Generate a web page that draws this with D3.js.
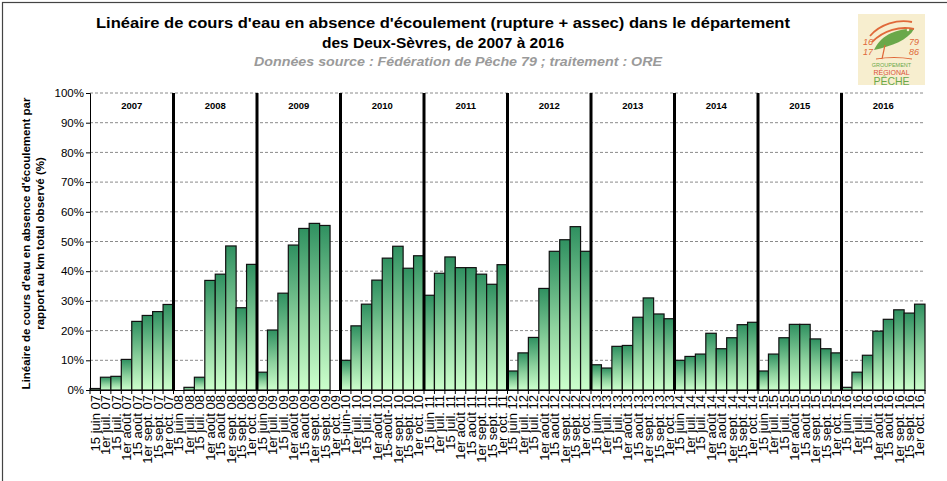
<!DOCTYPE html>
<html>
<head>
<meta charset="utf-8">
<script src="https://cdn.jsdelivr.net/npm/d3@7"></script>
<style>
  body { margin: 0; background: #fff; }
  svg { display: block; font-family: "Liberation Sans", Arial, sans-serif; }
</style>
</head>
<body>
<div id="chart-area"></div>
<script>
// années et dates d'observation
var years = ['2007', '2008', '2009', '2010', '2011', '2012', '2013', '2014', '2015', '2016'];
var dates = ['15 juin', '1er juil.', '15 juil.', '1er août', '15 août', '1er sept.', '15 sept.', '1er oct.'];

// part du linéaire en absence d'écoulement (%), null = pas d'observation
var v2007 = [0.5, 4.3, 4.6, 10.3, 23.1, 25.1, 26.4, 28.8];
var v2008 = [null, 0.9, 4.3, 36.9, 39.0, 48.5, 27.7, 42.3];
var v2009 = [6.0, 20.2, 32.6, 48.8, 54.4, 56.1, 55.4, null];
var v2010 = [10.0, 21.6, 28.9, 37.0, 44.4, 48.4, 41.0, 45.2];
var v2011 = [31.9, 39.3, 44.8, 41.2, 41.2, 39.0, 35.6, 42.2];
var v2012 = [6.4, 12.5, 17.7, 34.2, 46.7, 50.6, 55.0, 46.7];
var v2013 = [8.5, 7.4, 14.7, 15.0, 24.5, 31.0, 25.6, 24.0];
var v2014 = [10.0, 11.3, 12.1, 19.1, 13.9, 17.6, 22.0, 22.8];
var v2015 = [6.4, 12.1, 17.6, 22.1, 22.1, 17.2, 13.9, 12.5];
var v2016 = [0.9, 6.0, 11.7, 19.8, 23.8, 27.0, 25.9, 28.9];

var yTicks = [0, 10, 20, 30, 40, 50, 60, 70, 80, 90, 100];

var series = [v2007, v2008, v2009, v2010, v2011, v2012, v2013, v2014, v2015, v2016];

// libellés de l'axe des x, tels qu'écrits dans le classeur d'origine
function dateLabel(d, yr) {
    var s = yr.slice(2);
    if (yr === '2010' && (d === '15 juin' || d === '15 août')) {
        return d.replace(' ', '-') + '-' + s;
    }
    return d + ' ' + s;
}

var data = [];
years.forEach(function (yr, i) {
    dates.forEach(function (d, j) {
        data.push({ year: yr, label: dateLabel(d, yr), value: series[i][j], first: j === 0 });
    });
});

var W = 947, H = 481;
var margin = { left: 90, right: 22, top: 93, bottom: 91 };
var width = W - margin.left - margin.right;
var height = H - margin.top - margin.bottom;

var svg = d3.select('#chart-area').append('svg')
    .attr('width', W)
    .attr('height', H);

// cadre
svg.append('rect')
    .attr('x', 2.5).attr('y', 2.5)
    .attr('width', W + 20).attr('height', H + 20)
    .attr('fill', 'none')
    .attr('stroke', '#444')
    .attr('stroke-width', 1.2);

var defs = svg.append('defs');
var grad = defs.append('linearGradient')
    .attr('id', 'barGrad')
    .attr('x1', 0).attr('y1', 0).attr('x2', 0).attr('y2', 1);
grad.append('stop').attr('offset', '0%').attr('stop-color', '#2f9060');
grad.append('stop').attr('offset', '55%').attr('stop-color', '#8fd39f');
grad.append('stop').attr('offset', '100%').attr('stop-color', '#ccffcc');

// titre
svg.append('text')
    .attr('x', 443).attr('y', 28)
    .attr('text-anchor', 'middle')
    .attr('textLength', 694)
    .attr('lengthAdjust', 'spacingAndGlyphs')
    .attr('style', 'font-size: 15.5px; font-weight: bold')
    .text("Linéaire de cours d'eau en absence d'écoulement (rupture + assec) dans le département");
svg.append('text')
    .attr('x', 443).attr('y', 48)
    .attr('text-anchor', 'middle')
    .attr('style', 'font-size: 15.5px; font-weight: bold')
    .text('des Deux-Sèvres, de 2007 à 2016');
svg.append('text')
    .attr('x', 458).attr('y', 66)
    .attr('text-anchor', 'middle')
    .attr('textLength', 408)
    .attr('lengthAdjust', 'spacingAndGlyphs')
    .attr('fill', '#9a9a9a')
    .attr('style', 'font-size: 13px; font-weight: bold; font-style: italic')
    .text('Données source : Fédération de Pêche 79 ; traitement : ORE');

// logo
var logo = svg.append('g').attr('transform', 'translate(858,14)');
logo.append('rect').attr('width', 67).attr('height', 71).attr('fill', '#f7eecf');
logo.append('path')
    .attr('d', 'M16,36 C22,22 38,14 56,15 C50,26 34,32 16,36 Z')
    .attr('fill', '#6aa84a');
logo.append('path')
    .attr('d', 'M12,22 C22,10 40,5 54,8 M14,28 C26,16 42,12 56,15')
    .attr('fill', 'none').attr('stroke', '#e0693a').attr('stroke-width', 1.8);
logo.append('path')
    .attr('d', 'M24,45 L27,31 M18,45 C30,43 42,43 54,45')
    .attr('fill', 'none').attr('stroke', '#e0693a').attr('stroke-width', 1.2);
logo.append('circle').attr('cx', 50).attr('cy', 16).attr('r', 1.3).attr('fill', '#f7eecf');
[['16', 5, 31], ['17', 5, 41], ['79', 51, 31], ['86', 51, 41]].forEach(function (t) {
    logo.append('text')
        .attr('x', t[1]).attr('y', t[2])
        .attr('fill', '#e0693a')
        .attr('style', 'font-size: 9px; font-style: italic')
        .text(t[0]);
});
logo.append('text').attr('x', 33.5).attr('y', 53).attr('text-anchor', 'middle')
    .attr('fill', '#6aa84a').attr('style', 'font-size: 5.5px').text('GROUPEMENT');
logo.append('text').attr('x', 33.5).attr('y', 61).attr('text-anchor', 'middle')
    .attr('fill', '#d9533a').attr('style', 'font-size: 7px').text('RÉGIONAL');
logo.append('text').attr('x', 33.5).attr('y', 71).attr('text-anchor', 'middle')
    .attr('fill', '#6aa84a').attr('style', 'font-size: 10.5px').text('PÊCHE');

var g = svg.append('g')
    .attr('transform', 'translate(' + margin.left + ',' + margin.top + ')');

var x = d3.scaleBand()
    .domain(data.map(function (d) { return d.label; }))
    .range([0, width])
    .padding(0);

var y = d3.scaleLinear()
    .domain([0, 100])
    .range([height, 0]);

// grille
g.selectAll('.grid')
    .data(yTicks.filter(function (t) { return t > 0; }))
    .enter().append('line')
    .attr('class', 'grid')
    .attr('x1', 0).attr('x2', width)
    .attr('y1', function (d) { return y(d); })
    .attr('y2', function (d) { return y(d); })
    .attr('stroke', '#8a8a8a')
    .attr('stroke-dasharray', '3,2');

// barres
g.selectAll('rect.bar')
    .data(data.filter(function (d) { return d.value !== null; }))
    .enter().append('rect')
    .attr('class', 'bar')
    .attr('x', function (d) { return x(d.label); })
    .attr('y', function (d) { return y(d.value); })
    .attr('width', x.bandwidth())
    .attr('height', function (d) { return height - y(d.value); })
    .attr('fill', 'url(#barGrad)')
    .attr('stroke', '#111')
    .attr('stroke-width', 1.2);

// séparateurs d'années
g.selectAll('.sep')
    .data(data.filter(function (d) { return d.first && d.year !== years[0]; }))
    .enter().append('line')
    .attr('class', 'sep')
    .attr('x1', function (d) { return x(d.label); })
    .attr('x2', function (d) { return x(d.label); })
    .attr('y1', 0).attr('y2', height)
    .attr('stroke', '#000')
    .attr('stroke-width', 3);

// libellés d'années
g.selectAll('.yr')
    .data(data.filter(function (d) { return d.first; }))
    .enter().append('text')
    .attr('class', 'yr')
    .attr('x', function (d) { return x(d.label) + 4 * x.bandwidth(); })
    .attr('y', 16)
    .attr('text-anchor', 'middle')
    .attr('style', 'font-size: 9.5px; font-weight: bold')
    .text(function (d) { return d.year; });

// axe y
var yAxis = g.append('g')
    .call(d3.axisLeft(y)
        .tickValues(yTicks)
        .tickSize(4)
        .tickFormat(function (d) { return d + '%'; }));
yAxis.selectAll('text').attr('style', 'font-size: 11.5px').attr('fill', '#000').attr('x', -6);
yAxis.selectAll('line').attr('stroke', '#000');
yAxis.select('.domain').attr('stroke', '#000');

// axe x
var xAxis = g.append('g')
    .attr('transform', 'translate(0,' + height + ')')
    .call(d3.axisBottom(x).tickSize(0).tickSizeOuter(0));
xAxis.select('.domain').attr('stroke', '#000');
xAxis.selectAll('text')
    .attr('transform', 'rotate(-90)')
    .attr('x', -5)
    .attr('y', 0)
    .attr('dy', '0.36em')
    .attr('text-anchor', 'end')
    .attr('fill', '#000')
    .attr('style', 'font-size: 13px');

// graduations entre les catégories
xAxis.selectAll('.cat-tick')
    .data(data.map(function (d) { return x(d.label); }).concat([width]))
    .enter().append('line')
    .attr('class', 'cat-tick')
    .attr('x1', function (d) { return d; })
    .attr('x2', function (d) { return d; })
    .attr('y1', 0).attr('y2', 4)
    .attr('stroke', '#000');

// titre de l'axe y
var yTitle = svg.append('text')
    .attr('transform', 'translate(30,' + (margin.top + height / 2 + 2) + ') rotate(-90)')
    .attr('text-anchor', 'middle')
    .attr('style', 'font-size: 11.5px; font-weight: bold');
yTitle.append('tspan').attr('x', 0).attr('y', 0)
    .text("Linéaire de cours d'eau en absence d'écoulement par");
yTitle.append('tspan').attr('x', 0).attr('y', 14)
    .text('rapport au km total observé (%)');
</script>
</body>
</html>
